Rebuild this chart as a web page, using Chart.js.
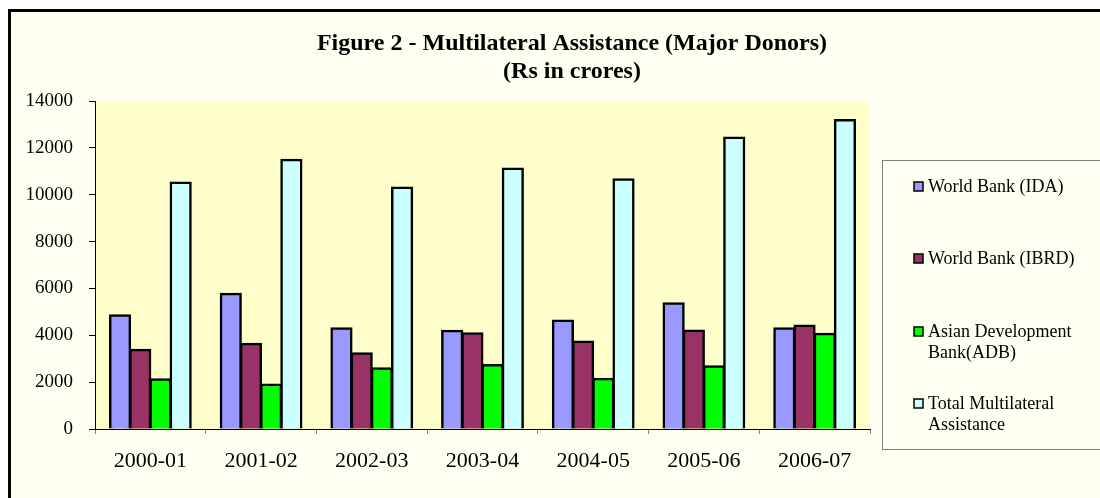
<!DOCTYPE html>
<html>
<head>
<meta charset="utf-8">
<script src="https://cdn.jsdelivr.net/npm/chart.js@4/dist/chart.umd.min.js"></script>
<style>
  html, body { margin: 0; padding: 0; background: #fff; }
  .canvas { width: 1100px; height: 498px; }
</style>
</head>
<body>
<div class="canvas">
  <canvas id="chart" width="1100" height="498"></canvas>
</div>
<script>
// values (Rs in crores)
const years = ['2000-01', '2001-02', '2002-03', '2003-04', '2004-05', '2005-06', '2006-07']
const ida = [4850, 5775, 4300, 4190, 4630, 5370, 4300]
const ibrd = [3380, 3635, 3235, 4090, 3735, 4205, 4420]
const adb = [2120, 1895, 2590, 2735, 2150, 2675, 4065]
const total = [10520, 11490, 10310, 11120, 10665, 12445, 13185]
const yTicks = [0, 2000, 4000, 6000, 8000, 10000, 12000, 14000]

const seriesNames = [['World Bank (IDA)'], ['World Bank (IBRD)'], ['Asian Development', 'Bank(ADB)'], ['Total Multilateral', 'Assistance']]
const colors = ['#9999FF', '#993366', '#00FF00', '#CCFFFF']

const serif = '"Liberation Serif", "Times New Roman", serif'

// frame, plot background, title and the boxed legend on the right
const frame = {
  id: 'frame',
  beforeDraw (chart) {
    const { ctx, chartArea: a } = chart
    ctx.save()
    ctx.fillStyle = '#fff'
    ctx.fillRect(0, 0, chart.width, chart.height)
    ctx.fillStyle = '#FFFFF2'
    ctx.fillRect(9, 10, chart.width, chart.height)
    ctx.strokeStyle = '#000'
    ctx.lineWidth = 3
    ctx.strokeRect(9.5, 10.5, chart.width + 10, chart.height + 10)
    ctx.fillStyle = '#FFFFCC'
    ctx.fillRect(a.left, a.top, a.right - a.left, a.bottom - a.top)
    ctx.restore()
  },
  afterDraw (chart) {
    const { ctx } = chart
    ctx.save()
    ctx.fillStyle = '#000'
    ctx.textAlign = 'center'
    ctx.textBaseline = 'middle'
    ctx.font = 'bold 24px ' + serif
    ctx.fillText('Figure 2 - Multilateral Assistance (Major Donors)', 572, 44)
    ctx.fillText('(Rs in crores)', 572, 72)

    // legend box
    ctx.strokeStyle = '#808080'
    ctx.lineWidth = 1
    ctx.fillStyle = '#FFFFF2'
    ctx.fillRect(882, 160, 240, 289)
    ctx.strokeRect(882.5, 160.5, 240, 289)
    const rows = [187, 259, 332, 404]
    ctx.font = '18px ' + serif
    ctx.textAlign = 'left'
    chart.data.datasets.forEach((ds, i) => {
      ctx.fillStyle = ds.backgroundColor
      ctx.fillRect(914, rows[i] - 5, 9, 9)
      ctx.strokeStyle = '#000'
      ctx.lineWidth = 1.5
      ctx.strokeRect(914, rows[i] - 5, 9, 9)
      ctx.fillStyle = '#000'
      seriesNames[i].forEach((line, j) => {
        ctx.fillText(line, 928, rows[i] + j * 21)
      })
    })
    ctx.restore()
  }
}

const data = {
  labels: years,
  datasets: [ida, ibrd, adb, total].map((values, i) => ({
    label: seriesNames[i].join(' '),
    data: values,
    backgroundColor: colors[i],
    borderColor: '#000',
    borderWidth: 2.5,
    borderSkipped: 'bottom',
    inflateAmount: 1
  }))
}

const config = {
  type: 'bar',
  data,
  plugins: [frame],
  options: {
    responsive: false,
    animation: false,
    datasets: { bar: { categoryPercentage: 0.73, barPercentage: 1 } },
    layout: { padding: { left: 0, right: 230, top: 101, bottom: 0 } },
    plugins: {
      legend: { display: false },
      title: { display: false },
      tooltip: { enabled: false }
    },
    scales: {
      x: {
        afterFit: s => { s.height = 69 },
        grid: { offset: true, drawOnChartArea: false, tickLength: 5, color: '#808080' },
        border: { color: '#000', width: 1 },
        ticks: { color: '#000', padding: 14, font: { family: serif, size: 22 } }
      },
      y: {
        min: 0,
        max: 14000,
        afterFit: s => { s.width = 95 },
        afterBuildTicks: s => { s.ticks = yTicks.map(v => ({ value: v })) },
        grid: { drawOnChartArea: false, tickLength: 6, color: '#000' },
        border: { color: '#000', width: 1 },
        ticks: { color: '#000', padding: 16, font: { family: serif, size: 19 }, callback: v => String(v) }
      }
    }
  }
}

new Chart(document.getElementById('chart').getContext('2d'), config)
</script>
</body>
</html>
